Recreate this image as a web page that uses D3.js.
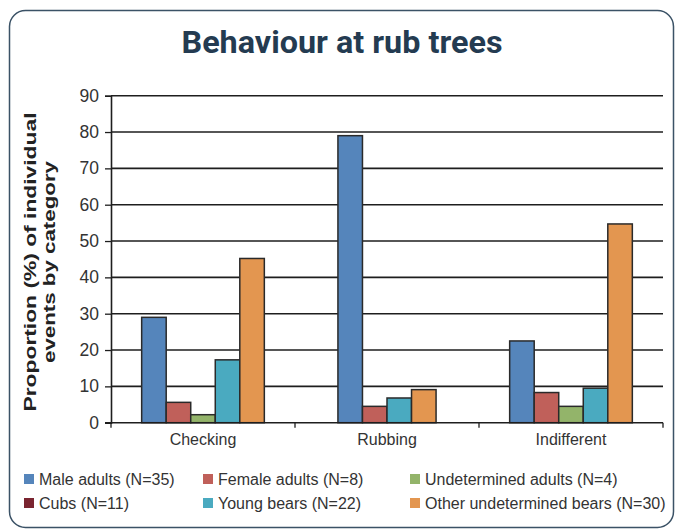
<!DOCTYPE html>
<html><head><meta charset="utf-8">
<script src="https://cdn.jsdelivr.net/npm/d3@7"></script>
<style>body{margin:0;background:#fff}svg{display:block}</style>
</head><body><svg id="c" width="676" height="530"></svg>
<script>
const categories = ["Checking", "Rubbing", "Indifferent"];
const seriesNames = ["Male adults (N=35)", "Female adults (N=8)", "Undetermined adults (N=4)", "Cubs (N=11)", "Young bears (N=22)", "Other undetermined bears (N=30)"];
const seriesColors = ["#5585bb", "#c0605a", "#93b46a", "#7a2430", "#4aaac0", "#e39650"];
// values per series, per category (null = no bar)
const maleAdults = [29, 79, 22.5];
const femaleAdults = [5.6, 4.5, 8.3];
const undeterminedAdults = [2.2, null, 4.5];
const cubs = [null, null, null];
const youngBears = [17.3, 6.8, 9.5];
const otherBears = [45.2, 9.1, 54.7];
const yTicks = [0, 10, 20, 30, 40, 50, 60, 70, 80, 90];
const series = [maleAdults, femaleAdults, undeterminedAdults, cubs, youngBears, otherBears];

const svg = d3.select("#c");
const font = "'Liberation Sans', Arial, Helvetica, sans-serif";

// frame
svg.append("rect").attr("x", 9.5).attr("y", 10.5).attr("width", 664).attr("height", 517)
  .attr("rx", 16).attr("fill", "#fff").attr("stroke", "#3b5266").attr("stroke-width", 1.5);

// title
svg.append("text").attr("x", 342).attr("y", 53).attr("text-anchor", "middle")
  .attr("font-family", "Roboto, 'DejaVu Sans', sans-serif").attr("font-weight", 700)
  .attr("font-size", 31).attr("fill", "#243b51")
  .attr("textLength", 321).attr("lengthAdjust", "spacingAndGlyphs")
  .text("Behaviour at rub trees");

const x0 = 111, x1 = 663, yTop = 95.7, yBot = 422.7;
const x = d3.scaleBand().domain(categories).range([x0, x1]).padding(0);
const y = d3.scaleLinear().domain([0, 90]).range([yBot, yTop]);

// grid lines
svg.append("g").selectAll("line").data(yTicks.filter(t => t > 0)).join("line")
  .attr("x1", x0).attr("x2", x1).attr("y1", d => y(d)).attr("y2", d => y(d))
  .attr("stroke", "#1e1e1e").attr("stroke-width", 1.6);

// bars
const bw = x.bandwidth() / 7.5;
categories.forEach((cat, ci) => {
  const present = series.map((s, si) => ({si, v: s[ci]})).filter(d => d.v != null && d.v > 0);
  const cx = x(cat) + x.bandwidth() / 2;
  const start = cx - present.length * bw / 2;
  svg.append("g").selectAll("rect").data(present).join("rect")
    .attr("x", (d, i) => start + i * bw)
    .attr("y", d => y(d.v))
    .attr("width", bw)
    .attr("height", d => yBot - y(d.v))
    .attr("fill", d => seriesColors[d.si])
    .attr("stroke", "#2a2a2a").attr("stroke-width", 1.5);
});

// y axis
const yAxis = svg.append("g").attr("transform", `translate(${x0},0)`)
  .call(d3.axisLeft(y).tickValues(yTicks).tickSize(6).tickPadding(6));
yAxis.select(".domain").attr("stroke", "#1e1e1e").attr("stroke-width", 1.6);
yAxis.selectAll(".tick line").attr("stroke", "#1e1e1e").attr("stroke-width", 1.3);
yAxis.selectAll(".tick text").attr("font-family", font).attr("font-size", 17.5).attr("fill", "#333");

// x axis
const xAxisG = svg.append("g").attr("transform", `translate(0,${yBot})`);
xAxisG.append("line").attr("x1", x0 - 6).attr("x2", x1).attr("y1", 0).attr("y2", 0)
  .attr("stroke", "#1e1e1e").attr("stroke-width", 1.6);
const bounds = categories.map(c => x(c)).concat([x1]);
xAxisG.selectAll("line.tk").data(bounds).join("line").attr("class", "tk")
  .attr("x1", d => d).attr("x2", d => d).attr("y1", 0).attr("y2", 5)
  .attr("stroke", "#1e1e1e").attr("stroke-width", 1.3);
xAxisG.selectAll("text").data(categories).join("text")
  .attr("x", d => x(d) + x.bandwidth() / 2).attr("y", 22.5)
  .attr("text-anchor", "middle").attr("font-family", font).attr("font-size", 16).attr("fill", "#333")
  .text(d => d);

// y title
const yt = svg.append("text").attr("transform", "translate(0,262) rotate(-90)")
  .attr("text-anchor", "middle").attr("font-family", font).attr("font-weight", 700)
  .attr("font-size", 17).attr("fill", "#222");
yt.append("tspan").attr("x", 0).attr("y", 36).attr("textLength", 299).attr("lengthAdjust", "spacingAndGlyphs")
  .text("Proportion (%) of individual");
yt.append("tspan").attr("x", 0).attr("y", 55).attr("textLength", 202).attr("lengthAdjust", "spacingAndGlyphs")
  .text("events by category");

// legend
const legX = [24, 203, 410], legY = [479, 503];
const leg = svg.append("g").selectAll("g").data(seriesNames).join("g")
  .attr("transform", (d, i) => `translate(${legX[i % 3]},${legY[Math.floor(i / 3)]})`);
leg.append("rect").attr("x", 0).attr("y", -5).attr("width", 10).attr("height", 10)
  .attr("fill", (d, i) => seriesColors[i]);
leg.append("text").attr("x", 15).attr("y", 6).attr("font-family", font).attr("font-size", 16)
  .attr("fill", "#333").text(d => d);
</script></body></html>
